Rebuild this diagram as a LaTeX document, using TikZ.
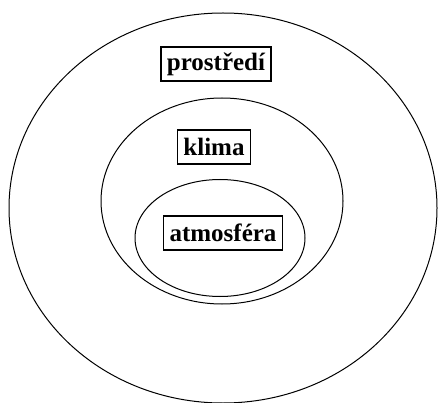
\documentclass[tikz,border=0pt]{standalone}
\usepackage{fontspec}
\setmainfont{Liberation Serif}
\usepackage{tikz}
\usetikzlibrary{shapes.geometric}

\begin{document}
\begin{tikzpicture}[
    x=1pt, y=-1pt,
    ring/.style={ellipse, draw=black, line width=1pt, inner sep=0pt},
    tag/.style={rectangle, draw=black, line width=1.4pt, fill=white,
        font=\fontsize{25}{27}\selectfont\bfseries, inner xsep=6pt,
        minimum height=34pt}
]
    \useasboundingbox (0,0) rectangle (438,403);

    % nested rings
    \node[ring, minimum width=428pt, minimum height=390pt] (prostredi) at (223,208) {};
    \node[ring, minimum width=242pt, minimum height=206pt] (klimaring) at (222,201) {};
    \node[ring, minimum width=170pt, minimum height=117pt] (atmoring) at (220,238) {};

    % labels
    \node[tag] (lprostredi) at (216,64) {prostředí};
    \node[tag] (lklima) at (214,147) {klima};
    \node[tag] (latmo) at (223,233) {atmosféra};
\end{tikzpicture}
\end{document}
